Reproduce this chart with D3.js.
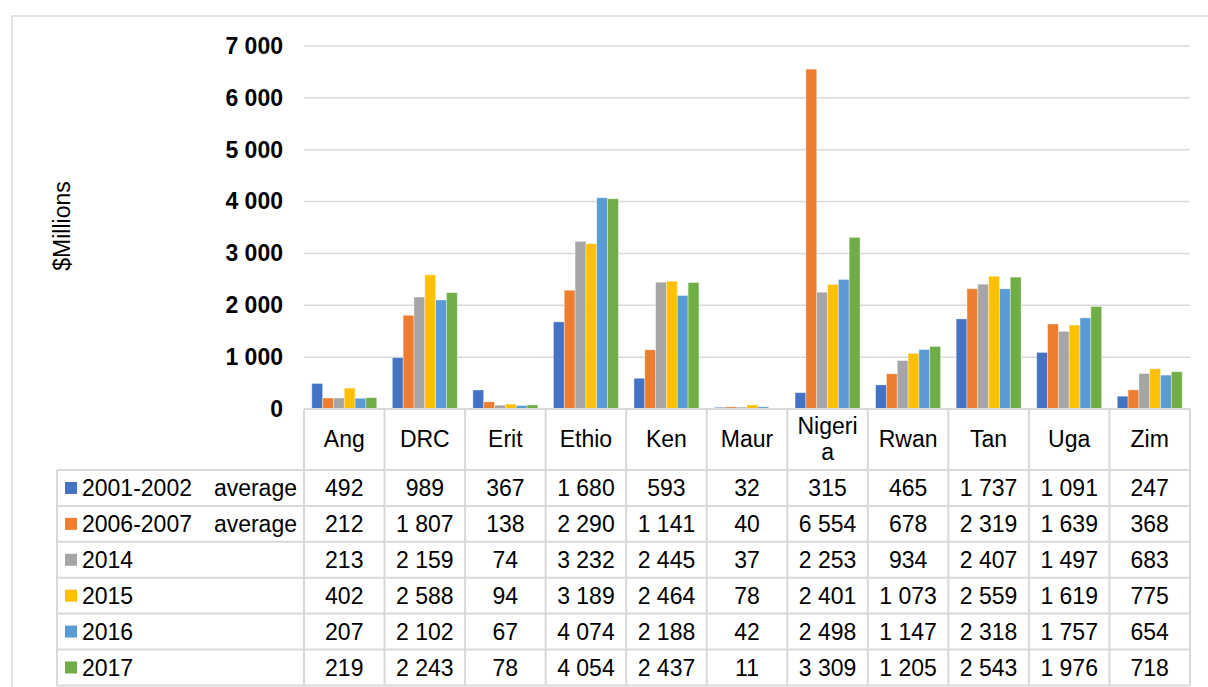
<!DOCTYPE html>
<html>
<head>
<meta charset="utf-8">
<script src="https://cdn.jsdelivr.net/npm/d3@7"></script>
<style>
  html, body { margin: 0; padding: 0; background: #fff; }
  svg { display: block; }
  text { font-family: "Liberation Sans", Arial, sans-serif; fill: #000; }
</style>
</head>
<body>
<svg id="chart" width="1208" height="687"></svg>
<script>
// ---- Data ----
const categories = ["Ang", "DRC", "Erit", "Ethio", "Ken", "Maur", "Nigeria", "Rwan", "Tan", "Uga", "Zim"];
const seriesNames = ["2001-2002 average", "2006-2007 average", "2014", "2015", "2016", "2017"];
const seriesColors = ["#4472C4", "#ED7D31", "#A5A5A5", "#FFC000", "#5B9BD5", "#70AD47"];
const values2001_2002 = [492, 989, 367, 1680, 593, 32, 315, 465, 1737, 1091, 247];
const values2006_2007 = [212, 1807, 138, 2290, 1141, 40, 6554, 678, 2319, 1639, 368];
const values2014 = [213, 2159, 74, 3232, 2445, 37, 2253, 934, 2407, 1497, 683];
const values2015 = [402, 2588, 94, 3189, 2464, 78, 2401, 1073, 2559, 1619, 775];
const values2016 = [207, 2102, 67, 4074, 2188, 42, 2498, 1147, 2318, 1757, 654];
const values2017 = [219, 2243, 78, 4054, 2437, 11, 3309, 1205, 2543, 1976, 718];
const yTicks = [0, 1000, 2000, 3000, 4000, 5000, 6000, 7000];
const yTitle = "$Millions";

const seriesValues = [values2001_2002, values2006_2007, values2014, values2015, values2016, values2017];

// ---- Layout ----
const plotLeft = 304, plotRight = 1190, plotTop = 46, plotBottom = 409;
const headerBottom = 470, rowH = 35.9, legendLeft = 57;
const gridColor = "#d9d9d9";
const fontSize = 23;

const locale = d3.formatLocale({decimal: ".", thousands: " ", grouping: [3], currency: ["", ""]});
const fmt = locale.format(",d");

const svg = d3.select("#chart");

// outer frame
svg.append("rect")
  .attr("x", 12).attr("y", 16)
  .attr("width", 1300).attr("height", 800)
  .attr("fill", "none").attr("stroke", gridColor).attr("stroke-width", 1.5);

const x0 = d3.scaleBand().domain(categories).range([plotLeft, plotRight]).padding(0);
const x1 = d3.scaleBand().domain(seriesNames).range([0, x0.bandwidth()]).paddingInner(0).paddingOuter(0.72);
const y = d3.scaleLinear().domain([0, 7000]).range([plotBottom, plotTop]);

// gridlines
svg.append("g").selectAll("line").data(yTicks.filter(d => d > 0)).join("line")
  .attr("x1", plotLeft).attr("x2", plotRight)
  .attr("y1", d => y(d)).attr("y2", d => y(d))
  .attr("stroke", gridColor).attr("stroke-width", 1.5);

// y axis tick labels
const yAxis = d3.axisLeft(y).tickValues(yTicks).tickFormat(fmt).tickSize(0).tickPadding(0);
const yg = svg.append("g").attr("transform", `translate(283,0)`).call(yAxis);
yg.select(".domain").remove();
yg.selectAll("text")
  .attr("font-size", fontSize).attr("font-weight", "bold")
  .attr("font-family", "'Liberation Sans', Arial, sans-serif")
  .attr("fill", "#000");

// y title
svg.append("text")
  .attr("transform", "translate(70,226) rotate(-90)")
  .attr("text-anchor", "middle")
  .attr("font-size", fontSize)
  .text(yTitle);

// bars
const groups = svg.append("g").selectAll("g").data(categories).join("g")
  .attr("transform", d => `translate(${x0(d)},0)`);
groups.selectAll("rect")
  .data((c, ci) => seriesNames.map((s, si) => ({s, si, v: seriesValues[si][ci]})))
  .join("rect")
  .attr("x", d => x1(d.s))
  .attr("width", x1.bandwidth())
  .attr("y", d => y(d.v))
  .attr("height", d => y(0) - y(d.v))
  .attr("fill", d => seriesColors[d.si])
  .attr("stroke", "#ffffff").attr("stroke-opacity", 0.45).attr("stroke-width", 0.8);

// ---- Data table ----
const tbl = svg.append("g");
const lineAttrs = sel => sel.attr("stroke", gridColor).attr("stroke-width", 2).attr("fill", "none");
const tableBottom = headerBottom + rowH * seriesNames.length;

// horizontal lines
tbl.append("line").attr("x1", plotLeft).attr("x2", plotRight).attr("y1", plotBottom).attr("y2", plotBottom).call(lineAttrs);
d3.range(seriesNames.length + 1).forEach(i => {
  tbl.append("line").attr("x1", legendLeft).attr("x2", plotRight)
    .attr("y1", headerBottom + i * rowH).attr("y2", headerBottom + i * rowH).call(lineAttrs);
});
// vertical lines
categories.forEach(c => {
  tbl.append("line").attr("x1", x0(c)).attr("x2", x0(c)).attr("y1", plotBottom).attr("y2", tableBottom).call(lineAttrs);
});
tbl.append("line").attr("x1", plotRight).attr("x2", plotRight).attr("y1", plotBottom).attr("y2", tableBottom).call(lineAttrs);
tbl.append("line").attr("x1", legendLeft).attr("x2", legendLeft).attr("y1", headerBottom).attr("y2", tableBottom).call(lineAttrs);

// header labels (wrap by character when too wide)
const headerCenter = (plotBottom + headerBottom) / 2;
categories.forEach(c => {
  const t = tbl.append("text")
    .attr("x", x0(c) + x0.bandwidth() / 2)
    .attr("text-anchor", "middle")
    .attr("font-size", fontSize);
  const maxW = x0.bandwidth() - 12;
  t.text(c);
  let lines = [c];
  if (t.node().getComputedTextLength() > maxW) {
    lines = [];
    let cur = "";
    for (const ch of c) {
      t.text(cur + ch);
      if (t.node().getComputedTextLength() > maxW && cur.length) {
        lines.push(cur); cur = ch;
      } else cur += ch;
    }
    if (cur) lines.push(cur);
  }
  t.text(null);
  const lh = 26;
  lines.forEach((ln, i) => {
    t.append("tspan")
      .attr("x", x0(c) + x0.bandwidth() / 2)
      .attr("y", headerCenter - 1 + (i - (lines.length - 1) / 2) * lh)
      .attr("dy", "0.35em")
      .text(ln);
  });
});

// rows
seriesNames.forEach((s, si) => {
  const cy = headerBottom + si * rowH + rowH / 2;
  tbl.append("rect")
    .attr("x", 65).attr("y", cy - 6).attr("width", 12).attr("height", 12)
    .attr("fill", seriesColors[si]);
  const parts = s.split(" ");
  if (parts.length > 1) {
    tbl.append("text").attr("x", 82).attr("y", cy).attr("dy", "0.35em")
      .attr("font-size", fontSize).text(parts.slice(0, -1).join(" "));
    tbl.append("text").attr("x", 297).attr("y", cy).attr("dy", "0.35em")
      .attr("text-anchor", "end").attr("font-size", fontSize).text(parts[parts.length - 1]);
  } else {
    tbl.append("text").attr("x", 82).attr("y", cy).attr("dy", "0.35em")
      .attr("font-size", fontSize).text(s);
  }
  categories.forEach((c, ci) => {
    tbl.append("text")
      .attr("x", x0(c) + x0.bandwidth() / 2)
      .attr("y", cy).attr("dy", "0.35em")
      .attr("text-anchor", "middle")
      .attr("font-size", fontSize)
      .text(fmt(seriesValues[si][ci]));
  });
});
</script>
</body>
</html>
